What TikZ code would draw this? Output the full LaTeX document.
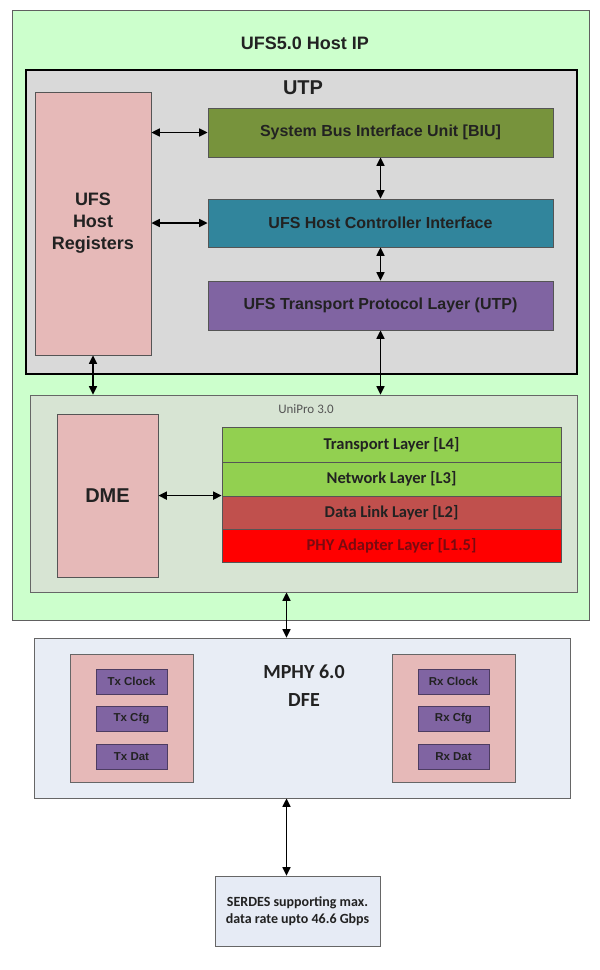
\documentclass[tikz,border=0pt]{standalone}
\usepackage{fontspec}
\setmainfont{Liberation Sans}
\newfontfamily\calib{Carlito}
\usetikzlibrary{arrows.meta}
\definecolor{outerg}{HTML}{CCFFCC}
\definecolor{utpg}{HTML}{D9D9D9}
\definecolor{pinkc}{HTML}{E6B9B8}
\definecolor{biuc}{HTML}{77933C}
\definecolor{hcic}{HTML}{31859C}
\definecolor{purc}{HTML}{8064A2}
\definecolor{unic}{HTML}{D7E4D3}
\definecolor{lgreen}{HTML}{92D050}
\definecolor{dllc}{HTML}{C0504D}
\definecolor{phyc}{HTML}{FF0000}
\definecolor{mphyc}{HTML}{E8EDF5}
\definecolor{serc}{HTML}{E6EBF5}
\definecolor{bord}{HTML}{555555}
\definecolor{txt}{HTML}{222222}
\definecolor{phytxt}{HTML}{7A0A10}
\definecolor{unitxt}{HTML}{555555}
\tikzset{
  blk/.style={rectangle, draw=bord, line width=0.8pt, inner sep=0pt, text=txt, align=center},
  lbl/.style={inner sep=0pt, text=txt, align=center},
  arr/.style={{Triangle[length=8.5pt,width=8pt]}-{Triangle[length=8.5pt,width=8pt]}, line width=1.6pt, black},
}
\begin{document}
\begin{tikzpicture}[x=1pt,y=-1pt]
\useasboundingbox (0,0) rectangle (600,970);
% outer host
\node[blk, fill=outerg, draw=gray!75!black, minimum width=577pt, minimum height=610pt] (host) at (300.5,315) {};
\node[lbl, font=\bfseries\fontsize{18}{22}\selectfont] (hostt) at (305,43) {UFS5.0 Host IP};
% UTP block
\node[blk, fill=utpg, draw=black, line width=1.5pt, minimum width=551pt, minimum height=304pt] (utp) at (301.5,222) {};
\node[lbl, font=\bfseries\fontsize{20}{24}\selectfont] (utpt) at (303,88) {UTP};
\node[blk, fill=pinkc, minimum width=116pt, minimum height=263pt, font=\bfseries\fontsize{18}{22}\selectfont] (reg) at (93,223.5) {UFS\\Host\\Registers};
\node[blk, fill=biuc, minimum width=345pt, minimum height=49pt, font=\bfseries\fontsize{16}{19}\selectfont] (biu) at (380.5,132.5) {System Bus Interface Unit [BIU]};
\node[blk, fill=hcic, minimum width=345pt, minimum height=48pt, font=\bfseries\fontsize{16}{19}\selectfont] (hci) at (380.5,223) {UFS Host Controller Interface};
\node[blk, fill=purc, minimum width=345pt, minimum height=49pt, font=\bfseries\fontsize{16}{19}\selectfont] (utpl) at (380.5,305.5) {UFS Transport Protocol Layer (UTP)};
% UniPro
\node[blk, fill=unic, draw=gray!80!black, minimum width=547pt, minimum height=197pt] (uni) at (303.5,493.5) {};
\node[lbl, text=unitxt, font=\calib\fontsize{13}{16}\selectfont] (unit) at (306,409) {UniPro 3.0};
\node[blk, fill=pinkc, minimum width=101pt, minimum height=163pt, font=\bfseries\fontsize{20}{24}\selectfont] (dme) at (107.5,495.5) {DME};
\node[blk, fill=lgreen, minimum width=339pt, minimum height=35pt, font=\calib\bfseries\fontsize{16.5}{19}\selectfont] (l4) at (391.5,444.5) {Transport Layer [L4]};
\node[blk, fill=lgreen, minimum width=339pt, minimum height=34pt, font=\calib\bfseries\fontsize{16.5}{19}\selectfont] (l3) at (391.5,479) {Network Layer [L3]};
\node[blk, fill=dllc, minimum width=339pt, minimum height=33pt, font=\calib\bfseries\fontsize{16.5}{19}\selectfont] (l2) at (391.5,512.5) {Data Link Layer [L2]};
\node[blk, fill=phyc, text=phytxt, minimum width=339pt, minimum height=33pt, font=\calib\bfseries\fontsize{16.5}{19}\selectfont] (l15) at (391.5,545.5) {PHY Adapter Layer [L1.5]};
% MPHY
\node[blk, fill=mphyc, draw=gray!80!black, minimum width=536pt, minimum height=160pt] (mphy) at (302,718) {};
\node[lbl, font=\calib\bfseries\fontsize{20}{28}\selectfont] (mphyt) at (304,686) {MPHY 6.0\\DFE};
\node[blk, fill=pinkc, draw=gray!80!black, minimum width=123pt, minimum height=128pt] (tx) at (131.5,718.5) {};
\node[blk, fill=pinkc, draw=gray!80!black, minimum width=123pt, minimum height=128pt] (rx) at (453.5,718.5) {};
\tikzset{sub/.style={blk, fill=purc, draw=purc!60!black, line width=1pt, minimum width=71pt, minimum height=25pt, font=\bfseries\fontsize{11.5}{14}\selectfont}}
\node[sub] (txc) at (131.5,681.5) {Tx Clock};
\node[sub] (txg) at (131.5,718.5) {Tx Cfg};
\node[sub] (txd) at (131.5,756.5) {Tx Dat};
\node[sub] (rxc) at (453.5,681.5) {Rx Clock};
\node[sub] (rxg) at (453.5,718.5) {Rx Cfg};
\node[sub] (rxd) at (453.5,756.5) {Rx Dat};
% SERDES
\node[blk, fill=serc, draw=gray!80!black, minimum width=165pt, minimum height=70pt, font=\calib\bfseries\fontsize{14}{17}\selectfont] (ser) at (297.5,911) {SERDES supporting max.\\data rate upto 46.6 Gbps};
% connectors
\coordinate (ca) at (286.5,0);
\draw[arr] (reg.east |- biu.west) -- (biu.west);
\draw[arr] (reg.east |- hci.west) -- (hci.west);
\draw[arr] (biu.south) -- (hci.north);
\draw[arr] (hci.south) -- (utpl.north);
\draw[arr] (reg.south) -- (reg.south |- uni.north);
\draw[arr] (utpl.south) -- (utpl.south |- uni.north);
\draw[arr] (dme.east |- l2.north) -- (l2.north west);
\draw[arr] (ca |- uni.south) -- (ca |- mphy.north);
\draw[arr] (ca |- mphy.south) -- (ca |- ser.north);
\end{tikzpicture}
\end{document}
